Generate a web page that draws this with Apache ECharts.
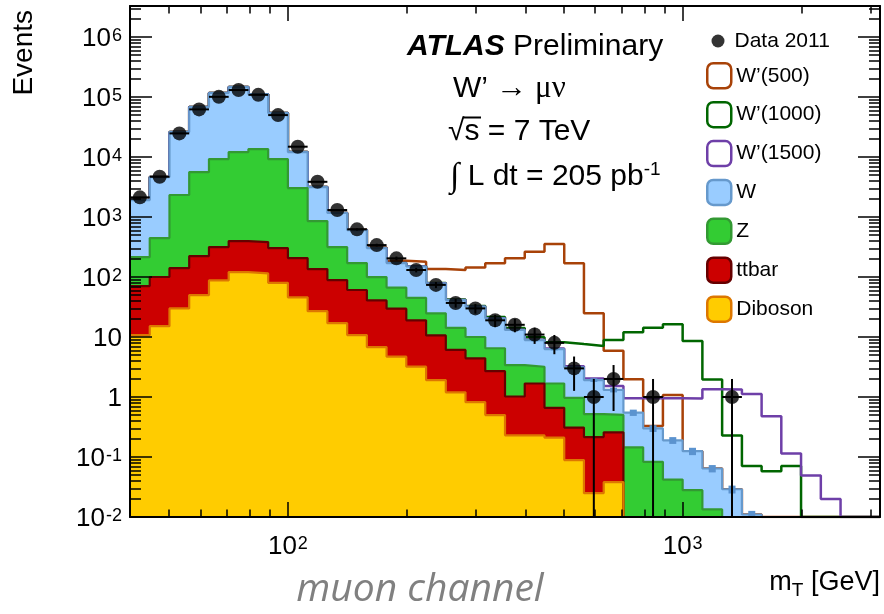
<!DOCTYPE html>
<html>
<head>
<meta charset="utf-8">
<script src="https://cdn.jsdelivr.net/npm/echarts@6/dist/echarts.min.js"></script>
<style>
  html, body { margin: 0; padding: 0; background: #fff; }
  #chart { width: 884px; height: 614px; }
</style>
</head>
<body>
<div id="chart"></div>
<script>
// Transverse-mass spectrum, muon channel: stacked SM backgrounds, W' signals, data.

// Bin edges in m_T [GeV] (0.05 decade wide)
const binEdges = [39.81, 44.67, 50.12, 56.23, 63.10, 70.79, 79.43, 89.13, 100.0, 112.2,
  125.9, 141.3, 158.5, 177.8, 199.5, 223.9, 251.2, 281.8, 316.2, 354.8,
  398.1, 446.7, 501.2, 562.3, 631.0, 707.9, 794.3, 891.3, 1000, 1122,
  1259, 1413, 1585, 1778, 1995, 2239, 2512, 2818, 3162];

// Expected events per bin, by background process
const wJets = [1705, 4190, 23800, 62500, 107700, 134900, 98400, 44800, 9060, 2300,
  854, 436, 204, 104, 105, 53.7, 27.2, 22.0, 14.0, 9.7,
  5.7, 4.62, 2.16, 1.40, 0.81, 0.405, 0.217, 0.148, 0.097, 0.051,
  0.029, 0.011, 0, 0, 0, 0, 0, 0];
const zJets = [144, 347, 2190, 5400, 8940, 11700, 13200, 8960, 2830, 722,
  227, 110, 59, 37, 26, 14.2, 8.1, 5.6, 3.8, 2.38,
  1.52, 1.02, 0.66, 0.305, 0.245, 0.145, 0.083, 0.042, 0.028, 0.0134,
  0, 0, 0, 0, 0, 0, 0, 0];
const ttbar = [60, 85, 111, 174, 228, 277, 268, 224, 161, 109,
  72, 50, 34, 25, 15.8, 8.7, 4.9, 3.6, 2.2, 0.79,
  1.45, 0.45, 0.22, 0.19, 0.22, 0, 0, 0, 0, 0,
  0, 0, 0, 0, 0, 0, 0, 0];
const diboson = [10.8, 15.2, 30, 50, 88, 121, 115, 80, 46, 27,
  17, 10.8, 6.8, 4.7, 3.2, 1.92, 1.2, 0.82, 0.5, 0.23,
  0.23, 0.21, 0.089, 0.025, 0.038, 0, 0, 0, 0, 0,
  0, 0, 0, 0, 0, 0, 0, 0];

// Relative MC statistical uncertainty of the total background
const mcRelErr = [0.004, 0.003, 0.002, 0.001, 0.001, 0.001, 0.001, 0.002, 0.003, 0.005,
  0.008, 0.01, 0.015, 0.02, 0.02, 0.025, 0.03, 0.03, 0.035, 0.04,
  0.045, 0.05, 0.06, 0.07, 0.09, 0.12, 0.13, 0.13, 0.14, 0.14,
  0.15, 0.15, 0, 0, 0, 0, 0, 0];

// W' signal events per bin (drawn on top of the SM expectation)
const sigW500 = [0.4, 0.6, 1, 1.4, 2, 2.5, 3, 3.5, 4, 4.5,
  5, 6, 7, 16, 30, 58, 90, 112, 149, 192,
  255, 349, 166, 23, 4.6, 1.42, 0.03, 0.89, 0, 0,
  0, 0, 0, 0, 0, 0, 0, 0];
const sigW1000 = [0.05, 0.08, 0.1, 0.15, 0.2, 0.25, 0.3, 0.35, 0.4, 0.45,
  0.5, 0.55, 0.6, 0.7, 0.8, 0.9, 1.0, 1.0, 1.1, 1.0,
  1.0, 1.9, 4.5, 5.2, 7.6, 11.5, 14, 16.1, 8.5, 1.9,
  0.2, 0.06, 0.058, 0.071, 0, 0, 0, 0];
const sigW1500 = [0.01, 0.01, 0.02, 0.02, 0.03, 0.03, 0.04, 0.04, 0.05, 0.05,
  0.06, 0.06, 0.07, 0.07, 0.08, 0.08, 0.09, 0.09, 0.1, 0.1,
  0.1, 0.12, 0.12, 0.12, 0.21, 0.40, 0.65, 0.76, 0.82, 1.28,
  1.31, 1.11, 0.48, 0.114, 0.049, 0.02, 0, 0];

// Observed events (2011 data)
const data2011 = [2130, 4700, 24800, 62400, 101000, 131000, 109000, 50100, 14900, 3870,
  1310, 624, 341, 205, 131, 74, 37, 30, 19, 16,
  11, 8, 3, 1, 2, 0, 1, 0, 0, 0,
  1, 0, 0, 0, 0, 0, 0, 0];

// Axis ranges and tick values
const X_MIN = binEdges[0], X_MAX = binEdges[binEdges.length - 1];
const Y_MIN = 0.01, Y_MAX = 3.3e6;
const xMajorTicks = [100, 1000];
const xMinorTicks = [50, 60, 70, 80, 90, 200, 300, 400, 500, 600, 700, 800, 900, 2000, 3000];
const yMajorTicks = [0.01, 0.1, 1, 10, 100, 1e3, 1e4, 1e5, 1e6];
const yMinorTicks = [];
yMajorTicks.forEach(d => { for (let k = 2; k <= 9; k++) { const v = +(k * d).toPrecision(3); if (v < Y_MAX) yMinorTicks.push(v); } });

const SANS = '"Liberation Sans", Arial, Helvetica, sans-serif';
const SERIF = '"Liberation Serif", "DejaVu Serif", serif';

// cumulative stack tops
const cumDB = diboson.slice();
const cumTT = cumDB.map((v, i) => v + ttbar[i]);
const cumZ = cumTT.map((v, i) => v + zJets[i]);
const cumW = cumZ.map((v, i) => v + wJets[i]);

// histogram outline as a step path through the bin edges
function stepPoints(vals) {
  const pts = [];
  vals.forEach((v, i) => {
    const y = Math.max(v, Y_MIN);
    pts.push([binEdges[i], y], [binEdges[i + 1], y]);
  });
  return pts;
}
const binCenter = i => Math.sqrt(binEdges[i] * binEdges[i + 1]);

const series = [];

// W' lines sit beneath the background stack
[
  { name: 'W\u2019(500)', sig: sigW500, color: '#a84208' },
  { name: 'W\u2019(1000)', sig: sigW1000, color: '#006600' },
  { name: 'W\u2019(1500)', sig: sigW1500, color: '#6e3fa8' }
].forEach(s => {
  series.push({
    name: s.name, type: 'line', z: 1,
    data: stepPoints(cumW.map((b, i) => b + s.sig[i])),
    symbol: 'none', showSymbol: false,
    lineStyle: { color: s.color, width: 2.5 },
    itemStyle: { color: s.color }
  });
});

// stacked backgrounds, each filled down to the axis floor
[
  { name: 'W', vals: cumW, fill: '#99ccff', line: '#6699cc' },
  { name: 'Z', vals: cumZ, fill: '#33cc33', line: '#339933' },
  { name: 'ttbar', vals: cumTT, fill: '#cc0000', line: '#660000' },
  { name: 'Diboson', vals: cumDB, fill: '#ffcc00', line: '#dd7700' }
].forEach(s => {
  series.push({
    name: s.name, type: 'line', z: 2,
    data: stepPoints(s.vals),
    symbol: 'none', showSymbol: false,
    lineStyle: { color: s.line, width: 2.2 },
    areaStyle: { color: s.fill, opacity: 1, origin: 'start' },
    itemStyle: { color: s.fill }
  });
});

// MC statistical uncertainty boxes on the total background
series.push({
  type: 'custom', z: 3, silent: true,
  data: cumW.map((t, i) => [binEdges[i], binEdges[i + 1], t, mcRelErr[i]]).filter(d => d[2] > 0),
  encode: { x: [0, 1], y: 2 },
  renderItem(params, api) {
    const c = Math.sqrt(api.value(0) * api.value(1));
    const t = api.value(2), e = api.value(3);
    const hi = api.coord([c, t * (1 + e)]);
    const lo = api.coord([c, Math.max(t * (1 - e), Y_MIN)]);
    return { type: 'rect', shape: { x: hi[0] - 3.5, y: hi[1], width: 7, height: Math.max(lo[1] - hi[1], 0) },
      style: { fill: '#5b93cf' } };
  }
});

// data error bars: bin width horizontally, sqrt(N) vertically
const dataBins = data2011.map((n, i) => [binEdges[i], binEdges[i + 1], n]).filter(d => d[2] > 0);
series.push({
  type: 'custom', z: 4, silent: true,
  data: dataBins,
  encode: { x: [0, 1], y: 2 },
  renderItem(params, api) {
    const lo = api.value(0), hi = api.value(1), n = api.value(2);
    const c = Math.sqrt(lo * hi), e = Math.sqrt(n);
    const pl = api.coord([lo, n]), pr = api.coord([hi, n]);
    const pt = api.coord([c, n + e]), pb = api.coord([c, Math.max(n - e, Y_MIN)]);
    const st = { stroke: '#000', lineWidth: 2 };
    return { type: 'group', children: [
      { type: 'line', shape: { x1: pl[0], y1: pl[1], x2: pr[0], y2: pr[1] }, style: st },
      { type: 'line', shape: { x1: pt[0], y1: pt[1], x2: pb[0], y2: pb[1] }, style: st }
    ] };
  }
});
series.push({
  name: 'Data 2011', type: 'scatter', z: 5,
  data: data2011.map((n, i) => [binCenter(i), n]).filter(d => d[1] > 0),
  symbol: 'circle', symbolSize: 14,
  itemStyle: { color: '#000' }
});

// axis helpers
const powRich = {
  b: { fontSize: 26, fontFamily: SANS, color: '#000', lineHeight: 30, padding: [8, 0, 0, 0], verticalAlign: 'bottom' },
  e: { fontSize: 18, fontFamily: SANS, color: '#000', lineHeight: 14, padding: [5, 0, 0, 1], verticalAlign: 'top' }
};
// decades 1 and 10 are written out plainly, the rest as powers of ten
const powFmt = v => {
  const p = Math.round(Math.log10(v));
  if (p === 0) return '{b|1}';
  if (p === 1) return '{b|10}';
  return '{b|10}{e|' + p + '}';
};

function axisCommon(min, max) {
  return {
    type: 'log', logBase: 10, min, max, z: 10,
    splitLine: { show: false }, minorTick: { show: false }, minorSplitLine: { show: false },
    nameMoveOverlap: false
  };
}
function tickAxis(kind, pos, ticks, len, showLine) {
  const base = kind === 'x' ? axisCommon(X_MIN, X_MAX) : axisCommon(Y_MIN, Y_MAX);
  return Object.assign(base, {
    position: pos,
    axisLine: { show: showLine, onZero: false, lineStyle: { color: '#000', width: 2 } },
    axisTick: { show: true, inside: true, length: len, customValues: ticks, lineStyle: { color: '#000', width: 1.5 } },
    axisLabel: { show: false }
  });
}

const xMain = tickAxis('x', 'bottom', xMajorTicks, 15, true);
xMain.axisLabel = { show: true, customValues: xMajorTicks, formatter: powFmt, rich: powRich, margin: 13 };
xMain.name = '{m|m}{s|T}{m| [GeV]}';
xMain.nameLocation = 'end';
xMain.nameGap = 0;
xMain.nameTextStyle = {
  align: 'right', verticalAlign: 'top', padding: [52, 0, 0, 0],
  rich: {
    m: { fontSize: 27, fontFamily: SANS, color: '#000', lineHeight: 28 },
    s: { fontSize: 19, fontFamily: SANS, color: '#000', lineHeight: 18, padding: [12, 0, 0, 0], verticalAlign: 'top' }
  }
};

const yMain = tickAxis('y', 'left', yMajorTicks, 22, true);
yMain.axisLabel = { show: true, customValues: yMajorTicks, formatter: powFmt, rich: powRich, margin: 8 };
yMain.name = 'Events';
yMain.nameLocation = 'end';
yMain.nameRotate = 90;
yMain.nameGap = -4;
yMain.nameTextStyle = { fontSize: 28, fontFamily: SANS, color: '#000', align: 'right', verticalAlign: 'bottom', padding: [0, 0, 92, 0] };

const option = {
  animation: false,
  backgroundColor: '#fff',
  textStyle: { fontFamily: SANS },
  grid: { left: 130, right: 4, top: 6, bottom: 97, outerBoundsMode: 'none' },
  legend: [
    {
      data: ['Data 2011'], icon: 'circle', itemWidth: 13, itemHeight: 13,
      left: 711.5, top: 30.5, padding: 0, selectedMode: false,
      textStyle: { fontSize: 21, fontFamily: SANS, color: '#000', padding: [0, 0, 0, 5] }
    },
    {
      orient: 'vertical', left: 706, top: 62, padding: 0, itemWidth: 24, itemHeight: 25, itemGap: 11.4,
      selectedMode: false,
      textStyle: { fontSize: 21, fontFamily: SANS, color: '#000' },
      data: [
        { name: 'W\u2019(500)', icon: 'roundRect', itemStyle: { color: '#fff', borderColor: '#a84208', borderWidth: 2.5 } },
        { name: 'W\u2019(1000)', icon: 'roundRect', itemStyle: { color: '#fff', borderColor: '#006600', borderWidth: 2.5 } },
        { name: 'W\u2019(1500)', icon: 'roundRect', itemStyle: { color: '#fff', borderColor: '#6e3fa8', borderWidth: 2.5 } },
        { name: 'W', icon: 'roundRect', itemStyle: { color: '#99ccff', borderColor: '#6699cc', borderWidth: 2.5 } },
        { name: 'Z', icon: 'roundRect', itemStyle: { color: '#33cc33', borderColor: '#339933', borderWidth: 2.5 } },
        { name: 'ttbar', icon: 'roundRect', itemStyle: { color: '#cc0000', borderColor: '#660000', borderWidth: 2.5 } },
        { name: 'Diboson', icon: 'roundRect', itemStyle: { color: '#ffcc00', borderColor: '#dd7700', borderWidth: 2.5 } }
      ]
    }
  ],
  xAxis: [
    xMain,
    tickAxis('x', 'bottom', xMinorTicks, 7.5, false),
    tickAxis('x', 'top', xMajorTicks, 15, true),
    tickAxis('x', 'top', xMinorTicks, 7.5, false)
  ],
  yAxis: [
    yMain,
    tickAxis('y', 'left', yMinorTicks, 11, false),
    tickAxis('y', 'right', yMajorTicks, 22, true),
    tickAxis('y', 'right', yMinorTicks, 11, false)
  ],
  series,
  graphic: [
    { type: 'text', x: 407, y: 47, z: 20, style: {
      text: '{a|ATLAS} {b|Preliminary}', fontSize: 30, fontFamily: SANS, fill: '#000', verticalAlign: 'middle',
      rich: { a: { fontSize: 30, fontFamily: SANS, fontWeight: 'bold', fontStyle: 'italic' }, b: { fontSize: 30, fontFamily: SANS } } } },
    { type: 'text', x: 453, y: 89, z: 20, style: {
      text: '{s|W\u2019 }{m|\u2192 \u03bc\u03bd}', fontSize: 30, fill: '#000', verticalAlign: 'middle',
      rich: { s: { fontSize: 30, fontFamily: SANS }, m: { fontSize: 31, fontFamily: SERIF } } } },
    { type: 'text', x: 448, y: 132, z: 20, style: {
      text: '\u221as = 7 TeV', fontSize: 30, fontFamily: SANS, fill: '#000', verticalAlign: 'middle' } },
    // vinculum of the square root
    { type: 'line', z: 20, shape: { x1: 463, y1: 117.5, x2: 481, y2: 117.5 }, style: { stroke: '#000', lineWidth: 2 } },
    { type: 'text', x: 450, y: 177, z: 20, style: {
      text: '{i|\u222b}{t| L dt = 205 pb}{e|-1}', fontSize: 30, fill: '#000', verticalAlign: 'middle',
      rich: {
        i: { fontSize: 34, fontFamily: SERIF },
        t: { fontSize: 30, fontFamily: SANS },
        e: { fontSize: 19, fontFamily: SANS, verticalAlign: 'top', lineHeight: 18 }
      } } },
    { type: 'text', x: 420, y: 590, z: 20, style: {
      text: 'muon channel', fontSize: 39, fontFamily: '"Open Sans", sans-serif', fontStyle: 'italic',
      fill: '#808080', align: 'center', verticalAlign: 'middle' } }
  ]
};

const chart = echarts.init(document.getElementById('chart'), null, { renderer: 'canvas' });
chart.setOption(option);
</script>
</body>
</html>
